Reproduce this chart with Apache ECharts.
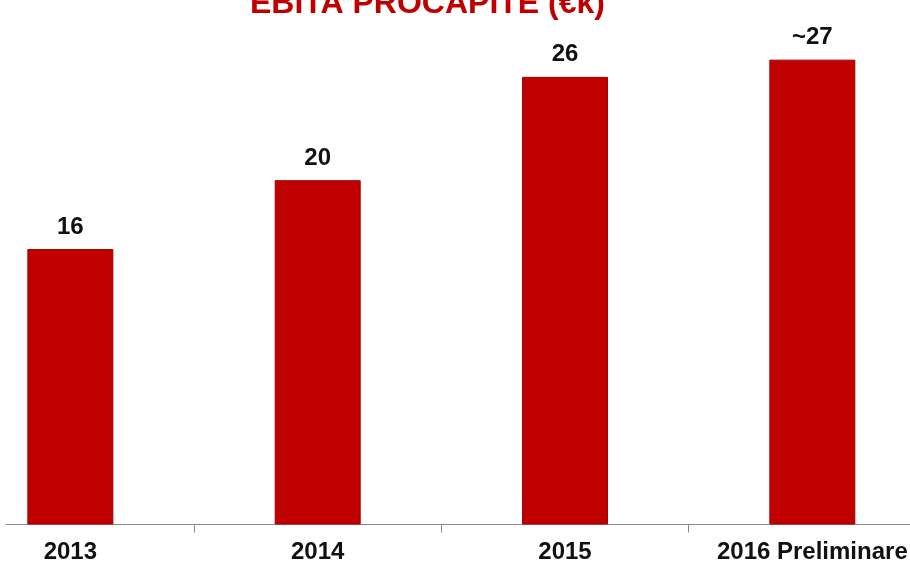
<!DOCTYPE html>
<html>
<head>
<meta charset="utf-8">
<title>EBITA procapite</title>
<script src="https://cdn.jsdelivr.net/npm/echarts@6/dist/echarts.min.js"></script>
<style>
  html, body { margin: 0; padding: 0; background: #ffffff; }
  #chart { width: 910px; height: 566px; }
</style>
</head>
<body>
<div id="chart"></div>
<script>
// EBITA per capita, thousands of euro
const categories = ['2013', '2014', '2015', '2016 Preliminare'];
const values = [16, 20, 26, 27];
const approximate = [false, false, false, true];
const titleText = 'EBITA PROCAPITE (€k)';

const FONT = '"Liberation Sans", Arial, sans-serif';
const RED = '#c00000';
const AXIS_GREY = '#8a8a8a';

const chart = echarts.init(document.getElementById('chart'), null, { renderer: 'canvas' });

chart.setOption({
  backgroundColor: '#ffffff',
  animation: false,
  title: {
    text: titleText,
    left: 250,
    top: -12,
    padding: 0,
    textStyle: {
      color: RED,
      fontFamily: FONT,
      fontWeight: 'bold',
      fontSize: 32
    }
  },
  grid: [
    // bars, category ticks and labels (bands run past the canvas edges)
    { left: -53.3, right: -26, top: 8, bottom: 41.5, containLabel: false, outerBoundsMode: 'none' },
    // baseline rule across the visible width
    { left: 6, right: 0, top: 8, bottom: 41.5, containLabel: false, outerBoundsMode: 'none' }
  ],
  xAxis: [
    {
      type: 'category',
      gridIndex: 0,
      data: categories,
      axisLine: { show: false },
      axisTick: {
        show: true,
        inside: false,
        length: 8,
        lineStyle: { color: AXIS_GREY, width: 1 }
      },
      axisLabel: {
        interval: 0,
        margin: 16,
        color: '#111111',
        fontFamily: FONT,
        fontWeight: 'bold',
        fontSize: 24
      },
      splitLine: { show: false }
    },
    {
      type: 'value',
      gridIndex: 1,
      min: 0,
      max: 1,
      axisLine: { show: true, lineStyle: { color: AXIS_GREY, width: 1 } },
      axisTick: { show: false },
      axisLabel: { show: false },
      splitLine: { show: false }
    }
  ],
  yAxis: [
    { type: 'value', gridIndex: 0, min: 0, max: 30, show: false },
    { type: 'value', gridIndex: 1, min: 0, max: 30, show: false }
  ],
  series: [
    {
      type: 'bar',
      xAxisIndex: 0,
      yAxisIndex: 0,
      data: values,
      barWidth: 86,
      itemStyle: {
        color: RED,
        borderColor: '#a30000',
        borderWidth: 1
      },
      label: {
        show: true,
        position: 'top',
        distance: 10,
        color: '#111111',
        fontFamily: FONT,
        fontWeight: 'bold',
        fontSize: 24,
        formatter: (p) => (approximate[p.dataIndex] ? '~' : '') + p.value
      }
    }
  ]
});
</script>
</body>
</html>
